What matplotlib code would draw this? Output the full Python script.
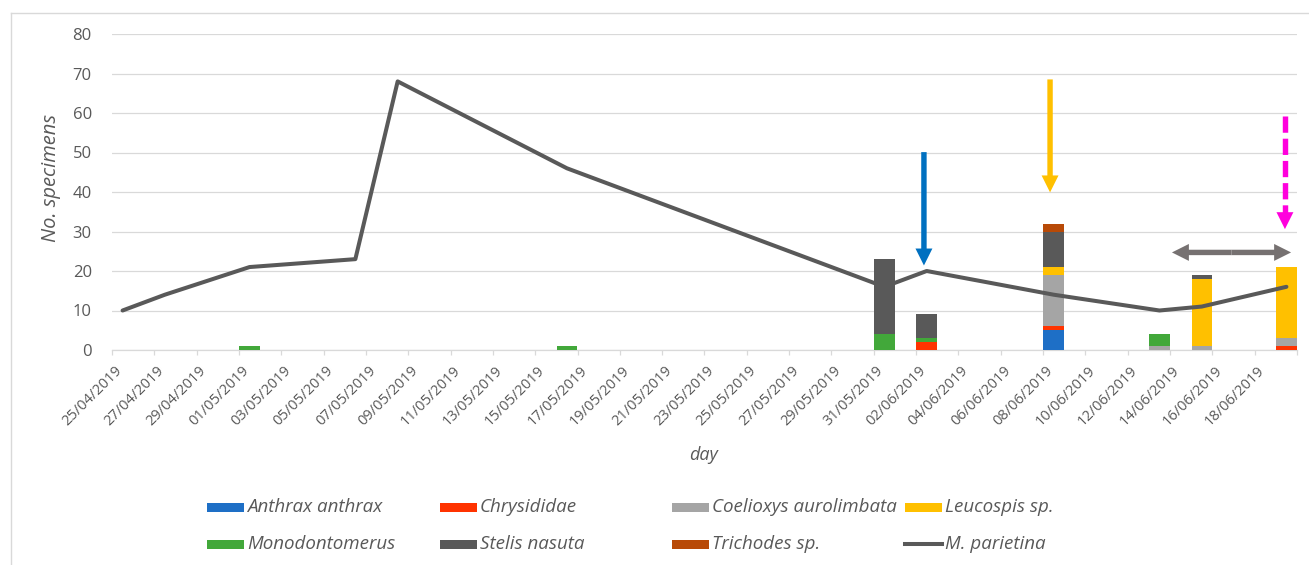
#!/usr/bin/env python3
"""Stacked parasite counts per sampling day with the M. parietina line on top."""

from datetime import date

import matplotlib

matplotlib.use("Agg")
import matplotlib.pyplot as plt
from matplotlib.patches import FancyArrowPatch, ArrowStyle, Rectangle
from matplotlib.lines import Line2D
from matplotlib.transforms import ScaledTranslation

START = date(2019, 4, 25)

# sampling days with parasite records
BAR_DATES = ["01/05/2019", "16/05/2019", "31/05/2019", "02/06/2019",
             "08/06/2019", "13/06/2019", "15/06/2019", "19/06/2019"]
ANTHRAX = [0, 0, 0, 0, 5, 0, 0, 0]
CHRYSIDIDAE = [0, 0, 0, 2, 1, 0, 0, 1]
COELIOXYS = [0, 0, 0, 0, 13, 1, 1, 2]
LEUCOSPIS = [0, 0, 0, 0, 2, 0, 17, 18]
MONODONTOMERUS = [1, 1, 4, 1, 0, 3, 0, 0]
STELIS = [0, 0, 19, 6, 9, 0, 1, 0]
TRICHODES = [0, 0, 0, 0, 2, 0, 0, 0]

# host counts
LINE_DATES = ["25/04/2019", "27/04/2019", "01/05/2019", "06/05/2019", "08/05/2019",
              "16/05/2019", "31/05/2019", "02/06/2019", "08/06/2019", "13/06/2019",
              "15/06/2019", "19/06/2019"]
PARIETINA = [10, 14, 21, 23, 68, 46, 16, 20, 14, 10, 11, 16]

SERIES = [
    ("Anthrax anthrax", ANTHRAX, "#1E6FC6"),
    ("Chrysididae", CHRYSIDIDAE, "#FF3300"),
    ("Coelioxys aurolimbata", COELIOXYS, "#A5A5A5"),
    ("Leucospis sp.", LEUCOSPIS, "#FFC000"),
    ("Monodontomerus", MONODONTOMERUS, "#42A83A"),
    ("Stelis nasuta", STELIS, "#595959"),
    ("Trichodes sp.", TRICHODES, "#B84A07"),
]
LINE_NAME = "M. parietina"
LINE_COLOR = "#595959"
TEXT = "#595959"
GRID = "#D9D9D9"

W, H = 1309, 565


def day(s: str) -> int:
    d, m, y = (int(p) for p in s.split("/"))
    return (date(y, m, d) - START).days


def fx(px: float) -> float:
    return px / W


def fy(py: float) -> float:
    return 1 - py / H


def arrow(ax, tail, tip, color, head=12.2, shaft=3.9):
    style = ArrowStyle.Simple(head_length=head, head_width=head, tail_width=shaft)
    ax.add_patch(FancyArrowPatch(tail, tip, arrowstyle=style, mutation_scale=1,
                                 color=color, lw=0, shrinkA=0, shrinkB=0,
                                 zorder=6, clip_on=False))


def main() -> None:
    plt.rcParams.update({"font.family": "Open Sans", "font.size": 12})
    fig = plt.figure(figsize=(W / 100, H / 100), dpi=100)
    fig.set_facecolor("white")

    # chart frame
    fig.add_artist(Line2D([fx(11), fx(11)], [fy(13), 0], color=GRID, lw=1))
    fig.add_artist(Line2D([fx(11), 1], [fy(13), fy(13)], color=GRID, lw=1))

    ax = fig.add_axes([fx(112), fy(350), 1185 / W, 316 / H])
    ax.set_xlim(-0.5, 55.5)
    ax.set_ylim(0, 80)

    xs = [day(s) for s in BAR_DATES]
    bottom = [0] * len(xs)
    for name, vals, color in SERIES:
        ax.bar(xs, vals, width=0.97, bottom=bottom, color=color, zorder=3, label=name)
        bottom = [b + v for b, v in zip(bottom, vals)]

    ax.plot([day(s) for s in LINE_DATES], PARIETINA, color=LINE_COLOR, lw=2.9,
            solid_joinstyle="round", solid_capstyle="round", zorder=5)

    # axes styling
    for side in ("top", "right", "left"):
        ax.spines[side].set_visible(False)
    ax.spines["bottom"].set_color(GRID)
    ax.spines["bottom"].set_linewidth(0.9)
    ax.set_yticks(range(0, 81, 10))
    ax.yaxis.grid(True, color=GRID, lw=0.9, zorder=0)
    ax.set_axisbelow(True)
    ax.tick_params(axis="y", length=0, pad=14.5, labelsize=12, labelcolor=TEXT)

    label_days = list(range(0, 55, 2))
    ax.set_xticks(label_days)
    ax.set_xticklabels([date.fromordinal(START.toordinal() + d).strftime("%d/%m/%Y")
                        for d in label_days],
                       rotation=45, ha="right", va="center", rotation_mode="anchor")
    ax.set_xticks([d - 0.5 for d in range(0, 57, 2)], minor=True)
    ax.tick_params(axis="x", which="major", length=0, pad=13.5, labelsize=10.5, labelcolor=TEXT)
    ax.tick_params(axis="x", which="minor", length=3.8, width=0.9, color=GRID)
    shift = ScaledTranslation(-3 / 100, 0, fig.dpi_scale_trans)
    for lab in ax.get_xticklabels():
        lab.set_transform(lab.get_transform() + shift)

    ax.set_ylabel("No. specimens", fontsize=14.5, style="italic", color=TEXT)
    ax.yaxis.set_label_coords(-0.043, 0.545)
    fig.text(fx(703), fy(455), "day", fontsize=13, style="italic", color=TEXT,
             ha="center", va="center")

    # annotation arrows
    arrow(ax, (37.87, 50.1), (37.87, 21.4), "#0070C0")
    arrow(ax, (43.83, 68.5), (43.83, 39.9), "#FFC000")
    ax.plot([54.93, 54.93], [59.2, 34.4], color="#FF00DD", lw=3.9,
            ls=(0, (3.0, 1.1)), solid_capstyle="butt", dash_capstyle="butt",
            zorder=6, clip_on=False)
    arrow(ax, (54.93, 34.6), (54.93, 30.6), "#FF00DD", head=12.2, shaft=0.1)
    mid = (49.59 + 55.22) / 2
    arrow(ax, (mid, 24.7), (49.59, 24.7), "#767171")
    arrow(ax, (mid, 24.7), (55.22, 24.7), "#767171")

    # legend laid out as in the source figure
    cols = [207, 440, 672, 905]
    rows = [507, 544]
    entries = [(n, c) for n, _, c in SERIES] + [(LINE_NAME, None)]
    for i, (name, color) in enumerate(entries):
        x0, y0 = cols[i % 4], rows[i // 4]
        if color is None:
            fig.add_artist(Line2D([fx(x0), fx(x0 + 37)], [fy(y0), fy(y0)],
                                  color=LINE_COLOR, lw=2.9))
        else:
            fig.add_artist(Rectangle((fx(x0), fy(y0 + 4.5)), 37 / W, 9 / H,
                                     transform=fig.transFigure, color=color, lw=0))
        fig.text(fx(x0 + 40), fy(y0), name, fontsize=13.5, style="italic",
                 color=TEXT, ha="left", va="center")

    fig.savefig("out.png", dpi=100, facecolor="white")
    plt.close(fig)


if __name__ == "__main__":
    main()
